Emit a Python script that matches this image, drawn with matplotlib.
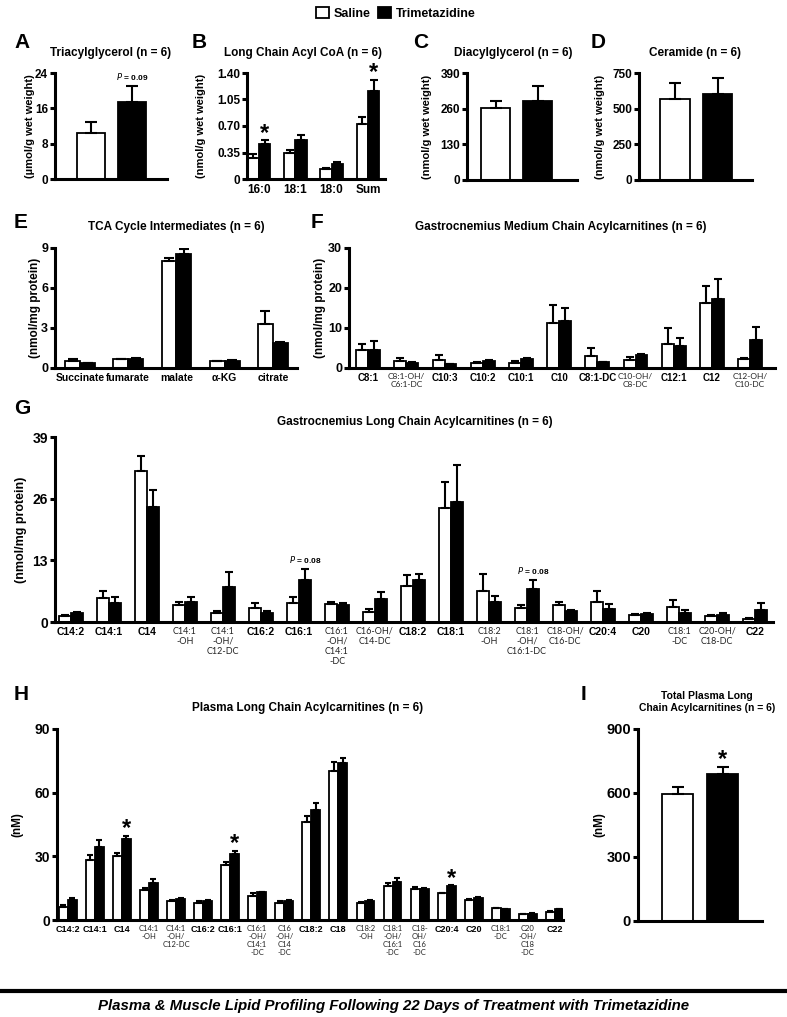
import matplotlib
matplotlib.use('Agg')
import matplotlib.pyplot as plt
from matplotlib.patches import Patch
from matplotlib.lines import Line2D
import numpy as np

plt.rcParams['font.family'] = ['Liberation Sans', 'DejaVu Sans']

W, H = 787, 1017

# ---- data ----
# A  Triacylglycerol
tag_sal, tag_sal_err = [10.5], [2.4]
tag_tmz, tag_tmz_err = [17.5], [3.5]

# B  Long chain acyl CoA
coa_labels = ['16:0', '18:1', '18:0', 'Sum']
coa_sal = [0.28, 0.34, 0.13, 0.73]
coa_sal_err = [0.05, 0.04, 0.015, 0.09]
coa_tmz = [0.46, 0.51, 0.20, 1.16]
coa_tmz_err = [0.05, 0.07, 0.02, 0.15]

# C  Diacylglycerol
dag_sal, dag_sal_err = [262], [26]
dag_tmz, dag_tmz_err = [288], [55]

# D  Ceramide
cer_sal, cer_sal_err = [565], [115]
cer_tmz, cer_tmz_err = [605], [107]

# E  TCA intermediates
tca_labels = ['Succinate', 'fumarate', 'malate', 'α-KG', 'citrate']
tca_sal = [0.55, 0.65, 8.0, 0.5, 3.3]
tca_sal_err = [0.1, 0.05, 0.25, 0.05, 1.0]
tca_tmz = [0.35, 0.7, 8.55, 0.55, 1.85]
tca_tmz_err = [0.03, 0.05, 0.35, 0.05, 0.1]

# F  Gastrocnemius medium chain acylcarnitines
mc_labels = ['C8:1', 'C8:1-OH/\nC6:1-DC', 'C10:3', 'C10:2', 'C10:1', 'C10',
             'C8:1-DC', 'C10-OH/\nC8-DC', 'C12:1', 'C12', 'C12-OH/\nC10-DC']
mc_sal = [4.5, 1.8, 2.0, 1.3, 1.3, 11.2, 3.1, 2.1, 6.0, 16.2, 2.2]
mc_sal_err = [1.5, 0.7, 1.2, 0.3, 0.4, 4.5, 1.8, 0.7, 3.9, 4.4, 0.4]
mc_tmz = [4.5, 1.3, 1.0, 1.7, 2.3, 11.8, 1.4, 3.2, 5.4, 17.3, 7.1]
mc_tmz_err = [2.3, 0.2, 0.1, 0.3, 0.3, 3.1, 0.1, 0.2, 2.2, 4.9, 3.1]

# G  Gastrocnemius long chain acylcarnitines
lc_labels = ['C14:2', 'C14:1', 'C14', 'C14:1\n-OH', 'C14:1\n-OH/\nC12-DC', 'C16:2',
             'C16:1', 'C16:1\n-OH/\nC14:1\n-DC', 'C16-OH/\nC14-DC', 'C18:2', 'C18:1',
             'C18:2\n-OH', 'C18:1\n-OH/\nC16:1-DC', 'C18-OH/\nC16-DC', 'C20:4', 'C20',
             'C18:1\n-DC', 'C20-OH/\nC18-DC', 'C22']
lc_sal = [1.3, 5.1, 31.9, 3.5, 2.0, 3.0, 4.0, 3.7, 2.1, 7.6, 24.0, 6.5, 3.0, 3.5, 4.2, 1.5, 3.2, 1.2, 0.7]
lc_sal_err = [0.2, 1.4, 3.1, 0.8, 0.3, 1.0, 1.3, 0.5, 0.6, 2.3, 5.5, 3.6, 0.6, 0.8, 2.3, 0.1, 1.4, 0.2, 0.1]
lc_tmz = [1.8, 4.0, 24.3, 4.2, 7.4, 2.0, 8.9, 3.5, 4.8, 8.9, 25.3, 4.2, 7.0, 2.3, 2.8, 1.7, 2.0, 1.4, 2.5]
lc_tmz_err = [0.4, 1.3, 3.5, 1.1, 3.1, 0.4, 2.3, 0.5, 1.6, 1.2, 7.8, 1.3, 1.9, 0.2, 1.0, 0.1, 0.6, 0.6, 1.5]

# H  Plasma long chain acylcarnitines
pl_labels = ['C14:2', 'C14:1', 'C14', 'C14:1\n-OH', 'C14:1\n-OH/\nC12-DC', 'C16:2',
             'C16:1', 'C16:1\n-OH/\nC14:1\n-DC', 'C16\n-OH/\nC14\n-DC', 'C18:2', 'C18',
             'C18:2\n-OH', 'C18:1\n-OH/\nC16:1\n-DC', 'C18-\nOH/\nC16\n-DC', 'C20:4', 'C20',
             'C18:1\n-DC', 'C20\n-OH/\nC18\n-DC', 'C22']
pl_sal = [6.1, 28.5, 30.0, 14.0, 9.0, 8.0, 26.0, 11.5, 8.0, 46.0, 70.0, 8.0, 16.0, 14.5, 12.5, 9.5, 5.5, 2.8, 3.8]
pl_sal_err = [0.9, 2.1, 1.6, 1.0, 0.5, 1.0, 1.5, 1.0, 1.0, 3.0, 4.5, 0.5, 1.5, 1.0, 0.3, 0.3, 0.2, 0.2, 0.5]
pl_tmz = [9.4, 34.5, 38.0, 17.5, 10.0, 9.0, 31.0, 13.0, 9.0, 52.0, 74.0, 9.0, 18.0, 14.8, 16.0, 10.4, 5.2, 3.0, 5.0]
pl_tmz_err = [0.8, 3.0, 1.7, 2.0, 0.3, 0.2, 1.5, 0.3, 0.3, 3.0, 2.5, 0.3, 1.8, 0.3, 0.3, 0.3, 0.2, 0.2, 0.2]
pl_star = ['C14', 'C16:1', 'C20:4']

# I  Total plasma long chain acylcarnitines
tot_sal, tot_sal_err = [595], [33]
tot_tmz, tot_tmz_err = [690], [32]


fig = plt.figure(figsize=(W / 100, H / 100), dpi=100)


def px_axes(x0, y0, x1, y1):
    # x0,x1 = left/right px; y0 = px of the zero line, y1 = px of the top tick
    return fig.add_axes([x0 / W, 1 - y0 / H, (x1 - x0) / W, (y0 - y1) / H])


def style(ax, ymax, yticks, yticklabels, fs):
    ax.set_ylim(0, ymax)
    for s in ['top', 'right']:
        ax.spines[s].set_visible(False)
    for s in ['left', 'bottom']:
        ax.spines[s].set_linewidth(2.2)
    ax.set_yticks(yticks)
    ax.set_yticklabels(yticklabels, fontsize=fs, fontweight='bold')
    ax.tick_params(axis='y', direction='out', length=3.5, width=2.2, pad=1.5)
    ax.tick_params(axis='x', length=0)


def draw(ax, xs, xb, sal, sal_err, tmz, tmz_err, w, cap):
    n = len(sal)
    ax.bar(xs, sal, w, color='white', edgecolor='black', lw=1.3, zorder=2)
    ax.bar(xb, tmz, w, color='black', edgecolor='black', lw=1.3, zorder=2)
    ax.errorbar(xs, sal, yerr=[np.zeros(n), sal_err], fmt='none', ecolor='black',
                elinewidth=1.5, capsize=cap, capthick=1.5, zorder=3)
    ax.errorbar(xb, tmz, yerr=[np.zeros(n), tmz_err], fmt='none', ecolor='black',
                elinewidth=1.5, capsize=cap, capthick=1.5, zorder=3)


def cat_labels(ax, labels, bsize, nsize):
    ax.set_xticks(np.arange(len(labels)))
    ax.set_xticklabels(labels)
    for t in ax.get_xticklabels():
        if '\n' in t.get_text():
            t.set_fontfamily(['Lato', 'DejaVu Sans'])
            t.set_fontsize(nsize)
            t.set_color('#222222')
            t.set_linespacing(1.15)
        else:
            t.set_fontweight('bold')
            t.set_fontsize(bsize)


def star(ax, x, top, size=17):
    ax.annotate('*', xy=(x, top), xytext=(0, -3), textcoords='offset points',
                ha='center', va='bottom', fontsize=size, fontweight='bold')


def ptext(ax, x, top, s):
    ax.annotate(r'$\mathit{P}$' + ' = ' + s, xy=(x, top), xytext=(0, 3),
                textcoords='offset points', ha='center', va='bottom',
                fontsize=6, fontweight='bold')


def ftext(x, y, s, **kw):
    fig.text(x / W, 1 - y / H, s, **kw)


def ylab(x, ax, s, fs=8.5):
    b = ax.get_position()
    fig.text(x / W, b.y0 + b.height / 2, s, rotation=90, ha='center', va='center',
             fontsize=fs, fontweight='bold')


# ---- A ----
axA = px_axes(55, 179, 167, 73)
draw(axA, [0], [1], tag_sal, tag_sal_err, tag_tmz, tag_tmz_err, 0.7, 4.5)
axA.set_xlim(-0.88, 1.85)
axA.set_xticks([])
style(axA, 24, [0, 8, 16, 24], ['0', '8', '16', '24'], 8.5)
ptext(axA, 1, tag_tmz[0] + tag_tmz_err[0], '0.09')
ylab(30, axA, '(µmol/g wet weight)', 8)

# ---- B ----
axB = px_axes(247, 179, 385, 73)
xB = np.arange(len(coa_labels))
draw(axB, xB - 0.155, xB + 0.155, coa_sal, coa_sal_err, coa_tmz, coa_tmz_err, 0.31, 3)
axB.set_xlim(-0.33, 3.47)
style(axB, 1.40, [0, 0.35, 0.70, 1.05, 1.40], ['0', '0.35', '0.70', '1.05', '1.40'], 8.5)
cat_labels(axB, coa_labels, 8.5, 7)
for i in [0, 3]:
    star(axB, xB[i] + 0.155, coa_tmz[i] + coa_tmz_err[i])
ylab(201, axB, '(nmol/g wet weight)', 8)

# ---- C ----
axC = px_axes(467, 180, 577, 73)
draw(axC, [0], [1], dag_sal, dag_sal_err, dag_tmz, dag_tmz_err, 0.69, 4.5)
axC.set_xlim(-0.69, 1.93)
axC.set_xticks([])
style(axC, 390, [0, 130, 260, 390], ['0', '130', '260', '390'], 8.5)
ylab(427, axC, '(nmol/g wet weight)', 8)

# ---- D ----
axD = px_axes(639, 180, 752, 73)
draw(axD, [0], [1], cer_sal, cer_sal_err, cer_tmz, cer_tmz_err, 0.7, 4.5)
axD.set_xlim(-0.85, 1.81)
axD.set_xticks([])
style(axD, 750, [0, 250, 500, 750], ['0', '250', '500', '750'], 8.5)
ylab(600, axD, '(nmol/g wet weight)', 8)

# ---- E ----
axE = px_axes(55, 368, 297, 248)
xE = np.arange(len(tca_labels))
draw(axE, xE - 0.155, xE + 0.155, tca_sal, tca_sal_err, tca_tmz, tca_tmz_err, 0.31, 3.5)
axE.set_xlim(-0.52, 4.5)
style(axE, 9, [0, 3, 6, 9], ['0', '3', '6', '9'], 9)
cat_labels(axE, tca_labels, 7.5, 7)
ylab(35, axE, '(nmol/mg protein)')

# ---- F ----
axF = px_axes(349, 368, 775, 248)
xF = np.arange(len(mc_labels))
draw(axF, xF - 0.155, xF + 0.155, mc_sal, mc_sal_err, mc_tmz, mc_tmz_err, 0.31, 3)
axF.set_xlim(-0.5, 10.65)
style(axF, 30, [0, 10, 20, 30], ['0', '10', '20', '30'], 9)
cat_labels(axF, mc_labels, 7, 6)
ylab(320, axF, '(nmol/mg protein)')

# ---- G ----
axG = px_axes(55, 622, 773, 437)
xG = np.arange(len(lc_labels))
draw(axG, xG - 0.155, xG + 0.155, lc_sal, lc_sal_err, lc_tmz, lc_tmz_err, 0.31, 3)
axG.set_xlim(-0.42, 18.47)
style(axG, 39, [0, 13, 26, 39], ['0', '13', '26', '39'], 10)
cat_labels(axG, lc_labels, 7.5, 6.5)
for lab in ['C16:1', 'C18:1\n-OH/\nC16:1-DC']:
    i = lc_labels.index(lab)
    ptext(axG, xG[i] + 0.155, lc_tmz[i] + lc_tmz_err[i], '0.08')
ylab(21, axG, '(nmol/mg protein)', 9)

# ---- H ----
axH = px_axes(57, 920, 563, 729)
xH = np.arange(len(pl_labels))
draw(axH, xH - 0.165, xH + 0.165, pl_sal, pl_sal_err, pl_tmz, pl_tmz_err, 0.33, 2.5)
axH.set_xlim(-0.4, 18.3)
style(axH, 90, [0, 30, 60, 90], ['0', '30', '60', '90'], 10)
cat_labels(axH, pl_labels, 6.5, 5.5)
for lab in pl_star:
    i = pl_labels.index(lab)
    star(axH, xH[i] + 0.165, pl_tmz[i] + pl_tmz_err[i])
ylab(17, axH, '(nM)', 8.5)

# ---- I ----
axI = px_axes(638, 921, 762, 729)
draw(axI, [0], [1], tot_sal, tot_sal_err, tot_tmz, tot_tmz_err, 0.68, 4.5)
axI.set_xlim(-0.87, 1.86)
axI.set_xticks([])
style(axI, 900, [0, 300, 600, 900], ['0', '300', '600', '900'], 10.5)
star(axI, 1, tot_tmz[0] + tot_tmz_err[0])
ylab(599, axI, '(nM)', 8.5)

# ---- panel letters and titles ----
for letter, x, y in [('A', 14, 43), ('B', 192, 43), ('C', 413, 43), ('D', 591, 43),
                     ('E', 14, 222), ('F', 311, 222), ('G', 14, 408), ('H', 14, 695),
                     ('I', 581, 695)]:
    ftext(x, y, letter, fontsize=15, fontweight='bold', ha='left', va='center')

for s, x, y in [('Triacylglycerol (n = 6)', 111, 53),
                ('Long Chain Acyl CoA (n = 6)', 303, 53),
                ('Diacylglycerol (n = 6)', 513, 53),
                ('Ceramide (n = 6)', 695, 53),
                ('TCA Cycle Intermediates (n = 6)', 176, 227),
                ('Gastrocnemius Medium Chain Acylcarnitines (n = 6)', 561, 227),
                ('Gastrocnemius Long Chain Acylcarnitines (n = 6)', 415, 422),
                ('Plasma Long Chain Acylcarnitines (n = 6)', 308, 708)]:
    ftext(x, y, s, fontsize=8.5, fontweight='bold', ha='center', va='center')
ftext(707, 702, 'Total Plasma Long\nChain Acylcarnitines (n = 6)', fontsize=7.5,
      fontweight='bold', ha='center', va='center', linespacing=1.2)

# ---- legend ----
handles = [Patch(facecolor='white', edgecolor='black', lw=1.3, label='Saline'),
           Patch(facecolor='black', edgecolor='black', lw=1.3, label='Trimetazidine')]
fig.legend(handles=handles, loc='upper center', bbox_to_anchor=(0.503, 1.004), ncol=2,
           frameon=False, prop={'weight': 'bold', 'size': 9}, handlelength=1.0,
           handleheight=1.0, columnspacing=0.6, handletextpad=0.4)

# ---- bottom rule and caption ----
fig.add_artist(Line2D([0, 1], [1 - 991 / H, 1 - 991 / H], transform=fig.transFigure,
                      color='black', lw=3))
ftext(W / 2, 1006, 'Plasma & Muscle Lipid Profiling Following 22 Days of Treatment with Trimetazidine',
      fontsize=10.8, fontweight='bold', style='italic', ha='center', va='center')

fig.savefig('out.png', dpi=100)
